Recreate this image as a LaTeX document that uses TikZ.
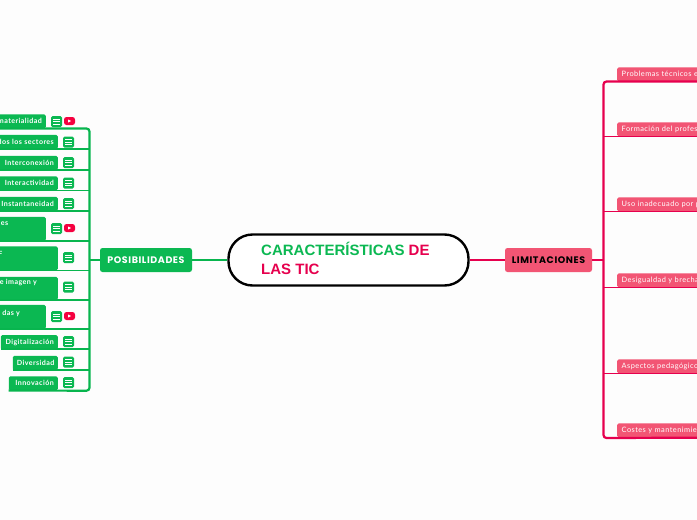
\documentclass[tikz,border=0pt]{standalone}
\usepackage{fontspec}
\setmainfont{Poppins}[LetterSpace=6]
\newfontfamily\smallfont{Lato}[LetterSpace=6]
\newfontfamily\rootfont{Liberation Sans}
\definecolor{gfill}{HTML}{0BB852}
\definecolor{gline}{HTML}{08B54E}
\definecolor{rfill}{HTML}{F25574}
\definecolor{rline}{HTML}{E6004E}
\definecolor{ytred}{HTML}{F5003F}
\definecolor{bgc}{HTML}{FDFDFD}
\tikzset{
  gwire/.style={draw=gline,line width=2.2pt},
  rwire/.style={draw=rline,line width=2.2pt},
  gb/.style 2 args={fill=gfill,rounded corners=1.5pt,inner xsep=4pt,inner ysep=0pt,text=white,font=\smallfont\fontsize{7.1}{8}\selectfont\bfseries,text width=#1,align=right,minimum height=#2,anchor=south east},
  rb/.style={fill=rfill,rounded corners=1.5pt,inner xsep=4.5pt,inner ysep=0pt,text=white,font=\smallfont\fontsize{7.4}{8}\selectfont,minimum height=14pt,anchor=south west,text width=130pt,align=left},
  clip2/.style={text=white,font=\smallfont\fontsize{7.1}{8}\selectfont\bfseries,inner sep=0pt,anchor=east},
  main/.style={rounded corners=2.5pt,font=\fontsize{9.5}{11}\selectfont\bfseries,minimum height=24pt,inner sep=0pt,anchor=center},
  ibox/.style={fill=gfill,rounded corners=1.5pt,minimum width=11pt,minimum height=11pt,inner sep=0pt,anchor=center},
  ybox/.style={fill=ytred,rounded corners=2.5pt,minimum width=11pt,minimum height=8pt,inner sep=0pt,anchor=center}
}
\newcommand{\menuicon}[3]{%
  \node[ibox] (#1) at (#2,#3) {};
  \draw[white,line width=.8pt] (#2-3.5,#3-2.5) -- (#2+3.5,#3-2.5) (#2-3.5,#3) -- (#2+3.5,#3) (#2-3.5,#3+2.5) -- (#2+3.5,#3+2.5);
}
\newcommand{\yticon}[3]{%
  \node[ybox] (#1) at (#2,#3) {};
  \fill[white] (#2-1.3,#3-1.5) -- (#2+1.5,#3) -- (#2-1.3,#3+1.5) -- cycle;
}
\begin{document}
\begin{tikzpicture}[x=1pt,y=-1pt]
\useasboundingbox (0,0) rectangle (697,520);
\fill[bgc] (0,0) rectangle (697,520);
\begin{scope}
\clip (0,0) rectangle (697,520);
% main nodes
\node[draw=black,line width=2.4pt,rounded corners=24pt,minimum width=240pt,minimum height=51pt,inner sep=0pt,fill=white] (root) at (348.5,260) {};
\node[anchor=north west,inner sep=0pt,align=left,font=\rootfont\fontsize{15}{19}\selectfont\bfseries] (roottext) at (261,242.5) {\textcolor{gfill}{CARACTERÍSTICAS} \textcolor{rline}{DE}\\\textcolor{rline}{LAS TIC}};
\node[main,fill=gfill,text=white,minimum width=92pt] (pos) at (146,260) {POSIBILIDADES};
\node[main,fill=rfill,text=black,minimum width=87pt] (lim) at (548.5,260) {LIMITACIONES};
% spine coordinates
\coordinate (gspine) at (89.5,260);
\coordinate (gbot) at (89.5,390.7);
\coordinate (rspine) at (603.5,260);
\coordinate (rbot) at (603.5,438);
% left boxes
\node[gb={70pt}{14pt}] (a1) at (46,128.5) {materialidad};
\node[gb={80pt}{14pt}] (a2) at (58,149) {dos los sectores};
\node[gb={80pt}{14pt}] (a3) at (58,170) {Interconexión};
\node[gb={80pt}{14pt}] (a4) at (58,190.5) {Interactividad};
\node[gb={80pt}{14pt}] (a5) at (58,211) {Instantaneidad};
\node[gb={70pt}{24pt}] (a6) at (46,241) {};
\node[gb={80pt}{24pt}] (a7) at (58,270.5) {};
\node[gb={80pt}{23pt}] (a8) at (58,300) {};
\node[gb={70pt}{24pt}] (a9) at (46,329) {};
\node[gb={49pt}{14pt}] (a10) at (58,349.3) {Digitalización};
\node[gb={37pt}{14pt}] (a11) at (58,370) {Diversidad};
\node[gb={41pt}{14pt}] (a12) at (58,390.5) {Innovación};
\node[clip2] (t6) at (8.5,224) {jes};
\node[clip2] (t7) at (2.5,254) {F};
\node[clip2] (t8) at (37,283) {e imagen y};
\node[clip2] (t9) at (20,313) {das y};
% connectors left
\draw[gwire] (root.west) -- (pos.east);
\draw[gwire] (pos.west) -- (gspine);
\draw[gwire,rounded corners=3pt] (a1.south west) -| (gbot) -- (a12.south west);
\foreach \n in {a2,a3,a4,a5,a6,a7,a8,a9,a10,a11}
  \draw[gwire,line width=1.8pt] (\n.south west) -- (\n.south -| gspine);
% icons
\menuicon{i1}{56.5}{121.5}\yticon{y1}{69.5}{121}
\menuicon{i2}{68.5}{142}
\menuicon{i3}{68.5}{162.5}
\menuicon{i4}{68.5}{183}
\menuicon{i5}{68.5}{203.5}
\menuicon{i6}{56.5}{228.5}\yticon{y6}{69.5}{228}
\menuicon{i7}{68.5}{257.5}
\menuicon{i8}{68.5}{287}
\menuicon{i9}{56.5}{316.5}\yticon{y9}{69.5}{316}
\menuicon{i10}{68.5}{341.5}
\menuicon{i11}{68.5}{362}
\menuicon{i12}{68.5}{382.5}
% right boxes
\node[rb] (b1) at (617,81.5) {Problemas técnicos e i};
\node[rb] (b2) at (617,136.5) {Formación del profesorado};
\node[rb] (b3) at (617,211.5) {Uso inadecuado por p};
\node[rb] (b4) at (617,287.5) {Desigualdad y brecha};
\node[rb] (b5) at (617,373.5) {Aspectos pedagógicos};
\node[rb] (b6) at (617,437.5) {Costes y mantenimiento};
% connectors right
\draw[rwire] (root.east) -- (lim.west);
\draw[rwire] (lim.east) -- (rspine);
\draw[rwire,rounded corners=3pt] (b1.south east) -| (rbot) -- (b6.south east);
\foreach \n in {b2,b3,b4,b5}
  \draw[rwire,line width=1.8pt] (\n.south -| rspine) -- (\n.south east);
\end{scope}
\end{tikzpicture}
\end{document}
